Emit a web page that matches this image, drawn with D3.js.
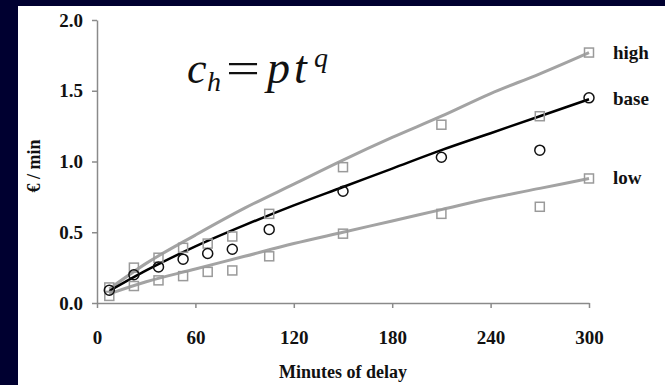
<!DOCTYPE html>
<html>
<head>
<meta charset="utf-8">
<script src="https://cdn.jsdelivr.net/npm/d3@7"></script>
<style>
  html, body { margin: 0; padding: 0; background: #000030; }
  svg { display: block; }
</style>
</head>
<body>
<svg id="chart" width="665" height="385"></svg>
<script>
// observed values (minutes of delay -> euro per minute)
const minutes = [7.5, 22.5, 37.5, 52.5, 67.5, 82.5, 105, 150, 210, 270, 300];
const highObs = [0.11, 0.25, 0.32, 0.39, 0.42, 0.47, 0.63, 0.96, 1.26, 1.32, 1.77];
const baseObs = [0.09, 0.20, 0.255, 0.31, 0.35, 0.38, 0.52, 0.79, 1.03, 1.08, 1.45];
const lowObs  = [0.05, 0.12, 0.16, 0.19, 0.22, 0.23, 0.33, 0.49, 0.63, 0.68, 0.88];

// fitted curves c_h = p t^q
const fitMinutes = [7.5, 30, 60, 90, 120, 150, 180, 210, 240, 270, 300];
const highFit = [0.10, 0.28, 0.48, 0.67, 0.84, 1.01, 1.17, 1.32, 1.48, 1.62, 1.77];
const baseFit = [0.085, 0.23, 0.40, 0.55, 0.69, 0.82, 0.95, 1.08, 1.20, 1.32, 1.44];
const lowFit  = [0.065, 0.15, 0.24, 0.33, 0.42, 0.50, 0.58, 0.66, 0.74, 0.81, 0.88];

const xTicks = [0, 60, 120, 180, 240, 300];
const yTicks = [0, 0.5, 1.0, 1.5, 2.0];
const seriesNames = ["high", "base", "low"];

const svg = d3.select("#chart");
const font = "'Liberation Serif', 'Times New Roman', serif";

// white panel
svg.append("rect")
    .attr("x", 18).attr("y", 6)
    .attr("width", 665 - 18).attr("height", 385 - 6)
    .attr("fill", "#fff");

let x = d3.scaleLinear().domain([0, 300]).range([97, 589]);
let y = d3.scaleLinear().domain([0, 2]).range([303, 20]);

// axes
let xAxis = svg.append("g")
    .attr("transform", "translate(0," + y(0) + ")")
    .call(d3.axisBottom(x).tickValues(xTicks).tickSize(5).tickSizeOuter(0).tickPadding(23)
        .tickFormat(d3.format("d")));
let yAxis = svg.append("g")
    .attr("transform", "translate(" + x(0) + ",0)")
    .call(d3.axisLeft(y).tickValues(yTicks).tickSize(5).tickSizeOuter(0).tickPadding(9)
        .tickFormat(d3.format(".1f")));

[xAxis, yAxis].forEach(function(g) {
    g.select(".domain").attr("stroke", "#8a8a8a").attr("stroke-width", 1.5);
    g.selectAll(".tick line").attr("stroke", "#8a8a8a").attr("stroke-width", 1.5);
    g.selectAll(".tick text")
        .attr("fill", "#111")
        .style("font-family", font)
        .style("font-weight", "bold")
        .style("font-size", "19px");
});

// axis titles
svg.append("text")
    .attr("x", 343).attr("y", 378)
    .attr("text-anchor", "middle")
    .attr("fill", "#111")
    .style("font-family", font).style("font-weight", "bold").style("font-size", "18px")
    .text("Minutes of delay");

svg.append("text")
    .attr("transform", "translate(40,166) rotate(-90)")
    .attr("text-anchor", "middle")
    .attr("fill", "#111")
    .style("font-family", font).style("font-weight", "bold").style("font-size", "18px")
    .text("€ / min");

// fitted lines
let line = d3.line()
    .x(function(d) { return x(d[0]); })
    .y(function(d) { return y(d[1]); })
    .curve(d3.curveMonotoneX);

let fits = [
    {vals: highFit, color: "#a3a3a3", width: 3},
    {vals: baseFit, color: "#000", width: 2.5},
    {vals: lowFit, color: "#a3a3a3", width: 3}
];
fits.forEach(function(f) {
    svg.append("path")
        .datum(fitMinutes.map(function(m, i) { return [m, f.vals[i]]; }))
        .attr("d", line)
        .attr("fill", "none")
        .attr("stroke", f.color)
        .attr("stroke-width", f.width);
});

// square markers for high and low
[highObs, lowObs].forEach(function(vals) {
    svg.append("g").selectAll("rect")
        .data(minutes.map(function(m, i) { return [m, vals[i]]; }))
        .enter()
        .append("rect")
        .attr("x", function(d) { return x(d[0]) - 4.5; })
        .attr("y", function(d) { return y(d[1]) - 4.5; })
        .attr("width", 9).attr("height", 9)
        .attr("fill", "none")
        .attr("stroke", "#9a9a9a")
        .attr("stroke-width", 1.5);
});

// circle markers for base
svg.append("g").selectAll("circle")
    .data(minutes.map(function(m, i) { return [m, baseObs[i]]; }))
    .enter()
    .append("circle")
    .attr("cx", function(d) { return x(d[0]); })
    .attr("cy", function(d) { return y(d[1]); })
    .attr("r", 5)
    .attr("fill", "none")
    .attr("stroke", "#111")
    .attr("stroke-width", 1.5);

// series labels at the end of each curve
let lastVals = [highFit, baseFit, lowFit].map(function(v) { return v[v.length - 1]; });
svg.append("g").selectAll("text")
    .data(seriesNames)
    .enter()
    .append("text")
    .attr("x", 613)
    .attr("y", function(d, i) { return y(lastVals[i]) + 6; })
    .attr("fill", "#111")
    .style("font-family", font).style("font-weight", "bold").style("font-size", "19px")
    .text(function(d) { return d; });

// formula
let formula = svg.append("g").attr("fill", "#111").style("font-family", font);
formula.append("text").attr("x", 187).attr("y", 83)
    .style("font-style", "italic").style("font-size", "44px").text("c");
formula.append("text").attr("x", 207).attr("y", 91)
    .style("font-style", "italic").style("font-size", "28px").text("h");
formula.append("text").attr("x", 226).attr("y", 83)
    .attr("textLength", 34).attr("lengthAdjust", "spacingAndGlyphs")
    .style("font-size", "44px").text("=");
formula.append("text").attr("x", 267).attr("y", 83)
    .style("font-style", "italic").style("font-size", "46px").style("letter-spacing", "4px")
    .text("pt");
formula.append("text").attr("x", 314).attr("y", 67)
    .style("font-style", "italic").style("font-size", "28px").text("q");
</script>
</body>
</html>
